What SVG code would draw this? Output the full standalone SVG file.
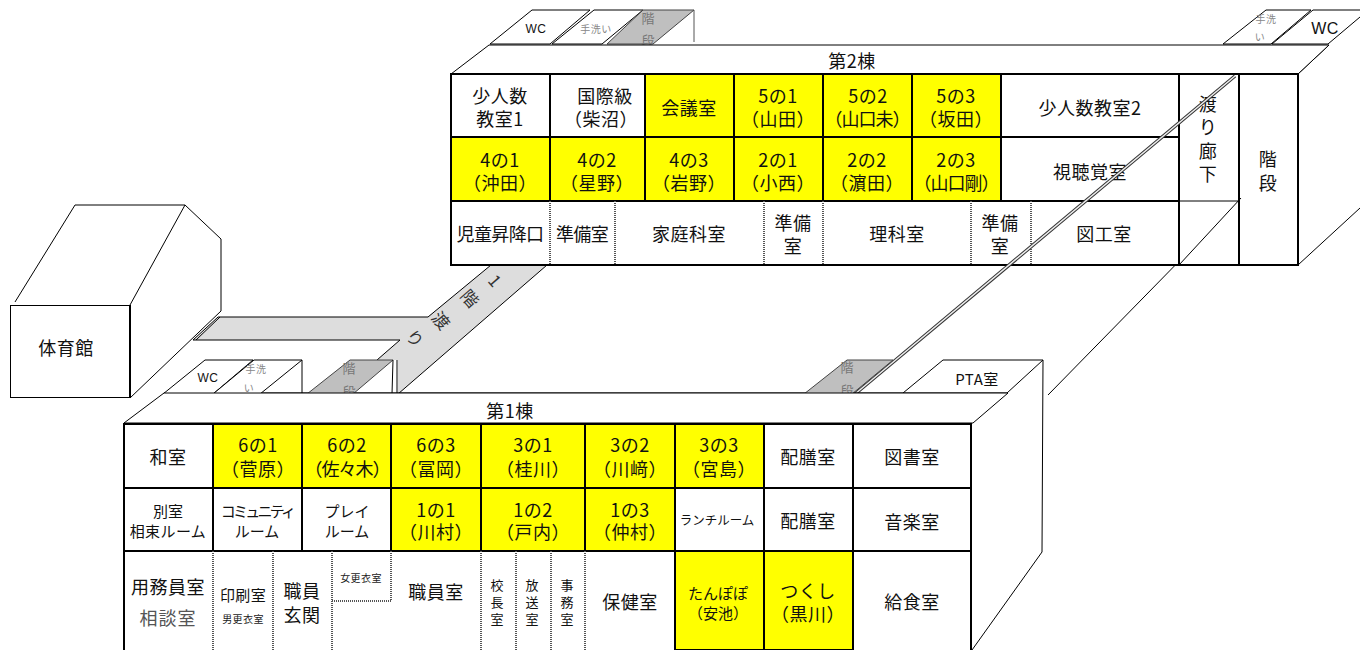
<svg xmlns="http://www.w3.org/2000/svg" width="1360" height="650" viewBox="0 0 1360 650">
<style>
text{font-family:"Noto Sans CJK JP","Noto Sans",sans-serif;font-size:18px;fill:#111;text-anchor:middle;dominant-baseline:central;letter-spacing:.5px}
.sm{font-size:10px;letter-spacing:.4px;fill:#222}
.md{font-size:15px;letter-spacing:0}
.v{font-size:13px;letter-spacing:0}
.g{fill:#777;font-size:13px;letter-spacing:0}
.t{fill:#888;font-size:10px;letter-spacing:.5px}
.wc{font-family:"Liberation Sans","Noto Sans",sans-serif;font-size:12px;letter-spacing:.5px}
.rot{font-size:17px;fill:#333}
.r{fill:#fff;stroke:#000;stroke-width:2}
.y{fill:#ff0;stroke:#000;stroke-width:2}
.n{fill:#fff;stroke:none}
.ln{fill:none;stroke:#000;stroke-width:1}
.f{fill:#fff;stroke:#000;stroke-width:1}
.gy{fill:#bfbfbf;stroke:#444;stroke-width:1}
.dot{fill:none;stroke:#555;stroke-width:2;stroke-dasharray:1 1}
.sol{fill:none;stroke:#000;stroke-width:2}
.dbl{fill:none;stroke:#333;stroke-width:3.500}
.dbi{fill:none;stroke:#eee;stroke-width:1.500}
</style>
<g id="connectors">
<path class="ln" d="M1241 198L1048 395"/>
<path class="ln" d="M1042 552L972 650"/>
<path class="ln" d="M1298 265L1360 208"/>
<path class="ln" d="M1298 74L1329 45"/>
<path d="M193 340L218 317H428L491 265H547L398 394V360H377L400 340Z" fill="#ddd" stroke="none"/>
<path class="ln" d="M193 340L218 317H428L491 265M547 265L398 394M193 340H400L377 360"/>
</g>
<g id="gym">
<rect class="f" x="10.500" y="305.500" width="120" height="92" stroke="#333"/>
<path class="ln" d="M15 302L75 205H185L130 305M185 205L221 239V311L130 398"/>
<path class="sol" d="M130 305V398"/>
<text x="66" y="347">体育館</text>
</g>
<g id="walkway-1f">
<path class="ln" stroke="#333" d="M196 340L220 317"/>
<text transform="translate(496 280) rotate(49)" class="rot">1</text>
<text transform="translate(471 298) rotate(49)" class="rot">階</text>
<text transform="translate(442 320) rotate(49)" class="rot">渡</text>
<text transform="translate(416 338) rotate(49)" class="rot">り</text>
</g>
<g id="building-2-annex">
<g id="wc-2a"><path class="f" d="M490 44L532 10H590L550 44Z"/><text class="wc" x="536" y="29">WC</text></g>
<g id="wash-2a"><path class="f" d="M552 44L594 10H643L602 44Z"/><text class="t" x="596" y="28">手洗い</text></g>
<g id="stairs-2a"><path class="gy" d="M607 44L643 10H694L653 44Z"/><path d="M694 10V42" stroke="#555" fill="none"/><text class="g"><tspan x="648" y="17">階</tspan><tspan x="648" y="39">段</tspan></text></g>
<g id="wash-2b"><path class="f" d="M1223 44L1266 10H1311L1271 44Z"/><text class="t"><tspan x="1266" y="18">手洗</tspan><tspan x="1260" y="36">い</tspan></text></g>
<g id="wc-2b"><path class="ln" d="M1272 44L1313 10H1360M1360 17L1328 44H1272"/><text class="wc" x="1325" y="28" style="font-size:16px">WC</text></g>
</g>
<g id="building-2">
<path class="f" d="M451 74L489 45H1329L1298 74Z"/>
<text x="852" y="60">第2棟</text>
<g id="r-2-1"><rect class="r" x="451" y="74" width="99" height="63"/><text><tspan x="500" y="95">少人数</tspan><tspan x="500" y="118">教室1</tspan></text></g>
<g id="r-2-2"><rect class="r" x="550" y="74" width="95" height="63"/><text><tspan x="605" y="95">国際級</tspan><tspan x="601" y="118">（柴沼）</tspan></text></g>
<g id="r-2-3"><rect class="y" x="645" y="74" width="89" height="63"/><text x="689" y="107">会議室</text></g>
<g id="r-2-4"><rect class="y" x="734" y="74" width="89" height="63"/><text><tspan x="778" y="95">5の1</tspan><tspan x="778" y="118">（山田）</tspan></text></g>
<g id="r-2-5"><rect class="y" x="823" y="74" width="89" height="63"/><text><tspan x="868" y="95">5の2</tspan><tspan x="867" y="118" style="letter-spacing:-1px">（山口未）</tspan></text></g>
<g id="r-2-6"><rect class="y" x="912" y="74" width="89" height="63"/><text><tspan x="956" y="95">5の3</tspan><tspan x="956" y="118">（坂田）</tspan></text></g>
<g id="r-2-7"><rect class="r" x="1001" y="74" width="178" height="63"/><text x="1090" y="107">少人数教室2</text></g>
<g id="r-2-8"><rect class="y" x="451" y="137" width="99" height="64"/><text><tspan x="500" y="159">4の1</tspan><tspan x="500" y="182">（沖田）</tspan></text></g>
<g id="r-2-9"><rect class="y" x="550" y="137" width="95" height="64"/><text><tspan x="597" y="159">4の2</tspan><tspan x="597" y="182">（星野）</tspan></text></g>
<g id="r-2-10"><rect class="y" x="645" y="137" width="89" height="64"/><text><tspan x="689" y="159">4の3</tspan><tspan x="689" y="182">（岩野）</tspan></text></g>
<g id="r-2-11"><rect class="y" x="734" y="137" width="89" height="64"/><text><tspan x="778" y="159">2の1</tspan><tspan x="778" y="182">（小西）</tspan></text></g>
<g id="r-2-12"><rect class="y" x="823" y="137" width="89" height="64"/><text><tspan x="867" y="159">2の2</tspan><tspan x="867" y="182">（濵田）</tspan></text></g>
<g id="r-2-13"><rect class="y" x="912" y="137" width="89" height="64"/><text><tspan x="956" y="159">2の3</tspan><tspan x="956" y="182" style="letter-spacing:-1px">（山口剛）</tspan></text></g>
<g id="r-2-14"><rect class="r" x="1001" y="137" width="178" height="64"/><text x="1090" y="171">視聴覚室</text></g>
<g id="r-2-15"><rect class="r" x="451" y="201" width="728" height="64"/><text x="500" y="233" style="letter-spacing:-.6px">児童昇降口</text><text x="582" y="233" style="letter-spacing:-.6px">準備室</text><text x="689" y="233">家庭科室</text><text><tspan x="793" y="222">準備</tspan><tspan x="793" y="245">室</tspan></text><text x="897" y="233">理科室</text><text><tspan x="1000" y="222">準備</tspan><tspan x="1000" y="245">室</tspan></text><text x="1104" y="233">図工室</text>
<path class="dot" d="M550 201V265M615 201V265M764 201V265M823 201V265M971 201V265M1031 201V265"/></g>
<g id="r-2-16"><rect class="r" x="1179" y="74" width="60" height="191"/><path class="ln" d="M1179 201H1239"/><text><tspan x="1208" y="103">渡</tspan><tspan x="1208" y="126">り</tspan><tspan x="1208" y="150">廊</tspan><tspan x="1208" y="173">下</tspan></text></g>
<g id="r-2-17"><rect class="r" x="1239" y="74" width="59" height="191"/><text><tspan x="1268" y="158">階</tspan><tspan x="1268" y="182">段</tspan></text></g>
</g>
<g id="corridor-2f">
<path class="dbl" d="M1235 76L855 394"/>
<path class="dbi" d="M1235 76L855 394"/>
<path class="ln" d="M1241 198L1179 265"/>
</g>
<g id="building-1-annex">
<path class="ln" stroke="#444" d="M164 393H1008"/>
<g id="wc-1a"><path class="f" d="M163 394L205 360H253L213 394Z"/><text class="wc" x="208" y="378" style="font-size:12px">WC</text></g>
<g id="wash-1a"><path class="f" d="M213 394L254 360H302L260 394Z"/><path class="ln" d="M302 360V393"/><text class="t"><tspan x="256" y="368">手洗</tspan><tspan x="249" y="387">い</tspan></text></g>
<g id="stairs-1a"><path class="gy" d="M307 394L350 360H393L353 394Z"/><path class="ln" d="M393 360L392 394M397 360V394"/><text class="g"><tspan x="349" y="367">階</tspan><tspan x="349" y="390">段</tspan></text></g>
<g id="stairs-1b"><path class="gy" d="M804 394L847 360H893L852 394Z"/><text class="g"><tspan x="847" y="366">階</tspan><tspan x="847" y="389">段</tspan></text></g>
<g id="pta"><path class="f" d="M903 393L943 360H1043L1007 393Z"/><path class="ln" d="M1043 360L1042 552"/><text class="wc" x="977" y="378" style="font-size:15px;font-family:'Noto Sans CJK JP'">PTA室</text></g>
</g>
<g id="building-1">
<path class="f" d="M124 423L164 393H1008L973 423Z"/>
<text x="510" y="410">第1棟</text>
<g id="r-1-1"><rect class="r" x="124" y="424" width="89" height="64"/><text x="168" y="456">和室</text></g>
<g id="r-1-2"><rect class="y" x="213" y="424" width="89" height="64"/><text><tspan x="258" y="444">6の1</tspan><tspan x="258" y="468">（菅原）</tspan></text></g>
<g id="r-1-3"><rect class="y" x="302" y="424" width="89" height="64"/><text><tspan x="347" y="444">6の2</tspan><tspan x="347" y="468" style="letter-spacing:-1px">（佐々木）</tspan></text></g>
<g id="r-1-4"><rect class="y" x="391" y="424" width="90" height="64"/><text><tspan x="436" y="444">6の3</tspan><tspan x="436" y="468">（冨岡）</tspan></text></g>
<g id="r-1-5"><rect class="y" x="481" y="424" width="104" height="64"/><text><tspan x="533" y="444">3の1</tspan><tspan x="533" y="468">（桂川）</tspan></text></g>
<g id="r-1-6"><rect class="y" x="585" y="424" width="90" height="64"/><text><tspan x="630" y="444">3の2</tspan><tspan x="630" y="468">（川﨑）</tspan></text></g>
<g id="r-1-7"><rect class="y" x="675" y="424" width="89" height="64"/><text><tspan x="719" y="444">3の3</tspan><tspan x="719" y="468">（宮島）</tspan></text></g>
<g id="r-1-8"><rect class="r" x="764" y="424" width="89" height="64"/><text x="808" y="456">配膳室</text></g>
<g id="r-1-9"><rect class="r" x="853" y="424" width="118" height="64"/><text x="912" y="456">図書室</text></g>
<g id="r-1-10"><rect class="r" x="124" y="488" width="89" height="63"/><text class="md"><tspan x="168" y="510">別室</tspan><tspan x="168" y="530" style="letter-spacing:.4px">相束ルーム</tspan></text></g>
<g id="r-1-11"><rect class="r" x="213" y="488" width="89" height="63"/><text class="md"><tspan x="257" y="510" style="letter-spacing:-2.800px">コミュニティ</tspan><tspan x="257" y="530">ルーム</tspan></text></g>
<g id="r-1-12"><rect class="r" x="302" y="488" width="89" height="63"/><text class="md"><tspan x="347" y="510">プレイ</tspan><tspan x="347" y="530">ルーム</tspan></text></g>
<g id="r-1-13"><rect class="y" x="391" y="488" width="90" height="63"/><text><tspan x="436" y="509">1の1</tspan><tspan x="436" y="531">（川村）</tspan></text></g>
<g id="r-1-14"><rect class="y" x="481" y="488" width="104" height="63"/><text><tspan x="533" y="509">1の2</tspan><tspan x="533" y="531">（戸内）</tspan></text></g>
<g id="r-1-15"><rect class="y" x="585" y="488" width="90" height="63"/><text><tspan x="630" y="509">1の3</tspan><tspan x="630" y="531">（仲村）</tspan></text></g>
<g id="r-1-16"><rect class="r" x="675" y="488" width="89" height="63"/><text x="717" y="519" style="font-size:12.500px;letter-spacing:0">ランチルーム</text></g>
<g id="r-1-17"><rect class="r" x="764" y="488" width="89" height="63"/><text x="808" y="520">配膳室</text></g>
<g id="r-1-18"><rect class="r" x="853" y="488" width="118" height="63"/><text x="912" y="521">音楽室</text></g>
<g id="r-1-19"><path class="n" d="M124 551H675V660H124Z"/><path class="sol" d="M124 551H675M124 551V650"/><path class="dot" d="M213 551V650M273 551V650M332 551V650M391 551V601H332M481 551V650M516 551V650M551 551V650M585 551V650"/>
<text><tspan x="168" y="586">用務員室</tspan><tspan x="168" y="617" style="fill:#555;letter-spacing:1px">相談室</tspan></text>
<text style="font-size:15px;letter-spacing:.3px" x="243" y="594">印刷室</text><text class="sm" x="243" y="618">男更衣室</text>
<text><tspan x="302" y="590">職員</tspan><tspan x="302" y="614">玄関</tspan></text>
<text class="sm" x="361" y="577">女更衣室</text><text x="436" y="591">職員室</text>
<text class="v"><tspan x="497" y="584">校</tspan><tspan x="497" y="601">長</tspan><tspan x="497" y="618">室</tspan></text>
<text class="v"><tspan x="532" y="584">放</tspan><tspan x="532" y="601">送</tspan><tspan x="532" y="618">室</tspan></text>
<text class="v"><tspan x="567" y="584">事</tspan><tspan x="567" y="601">務</tspan><tspan x="567" y="618">室</tspan></text>
<text x="630" y="601">保健室</text></g>
<g id="r-1-20"><path class="y" d="M675 551H764V650H675Z"/><text class="md"><tspan x="718" y="592">たんぽぽ</tspan><tspan x="718" y="612">（安池）</tspan></text></g>
<g id="r-1-21"><path class="y" d="M764 551H853V650H764Z"/><text><tspan x="808" y="590">つくし</tspan><tspan x="808" y="613">（黒川）</tspan></text></g>
<g id="r-1-22"><path class="r" d="M853 650V551H971V650"/><text x="912" y="601">給食室</text></g>
</g>
</svg>
